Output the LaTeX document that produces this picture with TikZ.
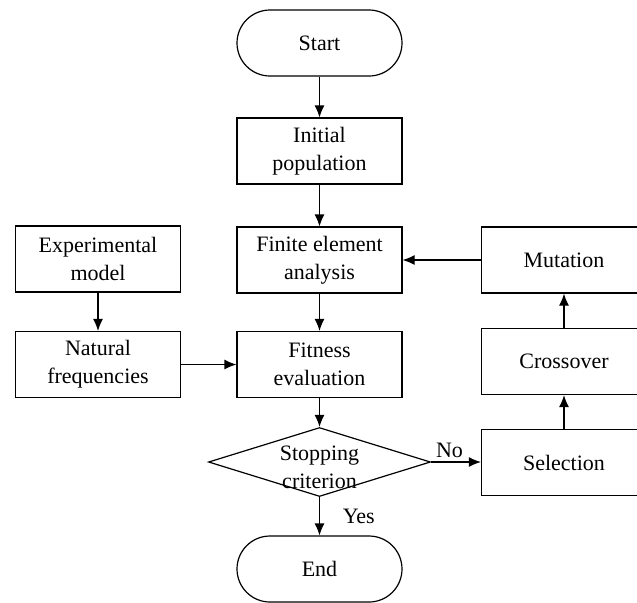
\documentclass[tikz,border=0pt]{standalone}
\usepackage{fontspec}
\setmainfont{Liberation Serif}
\usetikzlibrary{shapes.geometric,arrows.meta}

\begin{document}
\begin{tikzpicture}[x=0.5pt,y=-0.5pt,
  box/.style={draw, line width=0.6pt, minimum width=82.5pt, minimum height=33pt, align=center, inner sep=0pt},
  term/.style={box, rounded corners=16.5pt},
  decision/.style={draw, diamond, line width=0.6pt, minimum width=111pt, minimum height=34.5pt, inner sep=0pt},
  arr/.style={line width=0.6pt, -{Latex[length=6pt,width=5pt]}},
  font=\fontsize{11}{14}\selectfont]
\useasboundingbox (0,0) rectangle (637,602);
% main column
\node[term] (start) at (319.5,43) {Start};
\node[box] (init) at (319.5,151) {Initial\\population};
\node[box] (fea) at (319.5,260) {Finite element\\analysis};
\node[box] (fit) at (319.5,364.5) {Fitness\\evaluation};
\node[decision] (stop) at (319.5,462) {};
\node[align=center, inner sep=0pt] (stoptxt) at (319.5,467) {Stopping\\criterion};
\node[term] (end) at (319.5,569) {End};
% left column
\node[box] (expm) at (98,259) {Experimental\\model};
\node[box] (natf) at (98,364.5) {Natural\\frequencies};
% right column
\node[box] (mut) at (564,260) {Mutation};
\node[box] (cross) at (564,361.5) {Crossover};
\node[box] (sel) at (564,462.5) {Selection};
% arrows
\draw[arr] (start) -- (init);
\draw[arr] (init) -- (fea);
\draw[arr] (fea) -- (fit);
\draw[arr] (fit) -- (stop);
\draw[arr] (stop) -- node[right=8pt] {Yes} (end);
\draw[arr] (stop.east) -- node[above, pos=0.37, inner sep=2pt] {No} (stop.east -| sel.west);
\draw[arr] (sel) -- (cross);
\draw[arr] (cross) -- (mut);
\draw[arr] (mut) -- (mut -| fea.east);
\draw[arr] (expm) -- (natf);
\draw[arr] (natf) -- (natf -| fit.west);
\end{tikzpicture}
\end{document}
